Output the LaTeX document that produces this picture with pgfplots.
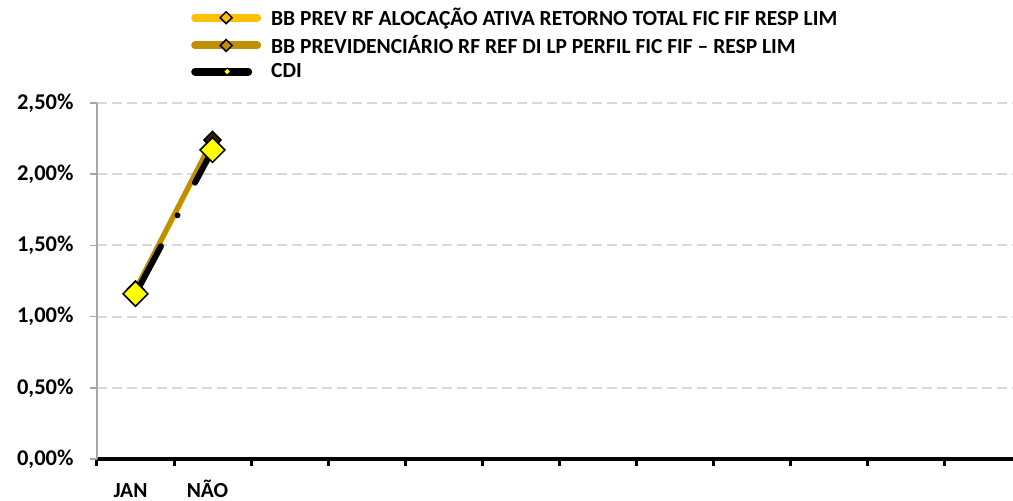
\documentclass[border=0pt]{standalone}
\usepackage{fontspec}
\setmainfont{Carlito}
\usepackage{pgfplots}
\pgfplotsset{compat=1.18}
\definecolor{goldA}{HTML}{FFC000}
\definecolor{goldB}{HTML}{BF8F00}
\definecolor{gridgray}{HTML}{D9D9D9}
\definecolor{axisgray}{HTML}{A6A6A6}
\definecolor{cdiyellow}{HTML}{FFFF00}
\newcommand\chartfont{\fontsize{21.5}{25}\selectfont\bfseries}
\newcommand\yfont{\fontsize{22.5}{26}\selectfont\bfseries}

\begin{document}
\begin{tikzpicture}[x=1pt,y=1pt]
\useasboundingbox (0,0) rectangle (1013,501);
\begin{axis}[
  at={(97pt,42pt)}, anchor=south west,
  scale only axis, width=916pt, height=356pt,
  xmin=-0.5, xmax=11.396, ymin=0, ymax=2.5,
  axis lines*=left,
  x axis line style={-, black, line width=4pt},
  y axis line style={-, axisgray, line width=1.5pt},
  xtick={-0.5,0.5,...,10.5}, xticklabels={},
  x tick style={black, line width=3pt},
  y tick style={axisgray, line width=1.5pt},
  major tick length=7pt, tick align=outside,
  ytick={0,0.5,...,2.5},
  yticklabels={{0,00\%},{0,50\%},{1,00\%},{1,50\%},{2,00\%},{2,50\%}},
  yticklabel style={font=\yfont, xshift=-13pt},
  ymajorgrids, grid style={gridgray, line width=2pt, dash pattern=on 10pt off 5pt},
  xticklabel style={font=\chartfont, text height=15pt, text depth=0pt},
  extra x ticks={0,1}, extra x tick labels={JAN,NÃO},
  extra x tick style={tick style={draw=none}, xticklabel style={yshift=-13pt, xshift=-5pt}},
  legend style={draw=none, fill=none, inner sep=0pt, font=\chartfont,
    at={(axis description cs:0.1026,1.2725)}, anchor=north west,
    nodes={inner sep=2pt}, row sep=4.5pt, column sep=8pt},
  legend cell align=left,
]
\addplot[goldA, line width=5pt, mark=square*, mark size=4pt,
  mark options={rotate=45, fill=goldA, draw=black, line width=1.2pt, solid},
  legend image code/.code={
    \draw[goldA, line width=8pt, line cap=round] (0pt,0pt) -- (62pt,0pt);
    \draw[mark=square*, mark size=4.2pt, mark options={rotate=45, fill=goldA, draw=black, line width=1.5pt}]
      plot coordinates {(31pt,0pt)};}]
  coordinates {(0,1.18) (1,2.23)};
\addlegendentry{BB PREV RF ALOCAÇÃO ATIVA RETORNO TOTAL FIC FIF RESP LIM}
\addplot[goldB, line width=5pt, mark=square*, mark size=6pt,
  mark options={rotate=45, fill=goldB!25!black, draw=black, line width=1.5pt, solid},
  legend image code/.code={
    \draw[goldB, line width=8pt, line cap=round] (0pt,0pt) -- (62pt,0pt);
    \draw[mark=square*, mark size=4.2pt, mark options={rotate=45, fill=goldB, draw=black, line width=1.5pt}]
      plot coordinates {(31pt,0pt)};}]
  coordinates {(0,1.19) (1,2.24)};
\addlegendentry{BB PREVIDENCIÁRIO RF REF DI LP PERFIL FIC FIF – RESP LIM}
\addplot[black, line width=6pt, line cap=round,
  dash pattern=on 54pt off 35pt on 0.01pt off 37pt,
  mark=square*, mark size=8.8pt,
  mark options={rotate=45, fill=cdiyellow, draw=black, line width=1.5pt, solid},
  legend image code/.code={
    \draw[black, line width=8pt, line cap=round] (0pt,0pt) -- (53pt,0pt);
    \draw[mark=square*, mark size=2.6pt, mark options={rotate=45, fill=cdiyellow, draw=black, line width=1pt}]
      plot coordinates {(32pt,0pt)};}]
  coordinates {(0,1.16) (1,2.17)};
\addlegendentry{CDI}
\end{axis}
\end{tikzpicture}
\end{document}
